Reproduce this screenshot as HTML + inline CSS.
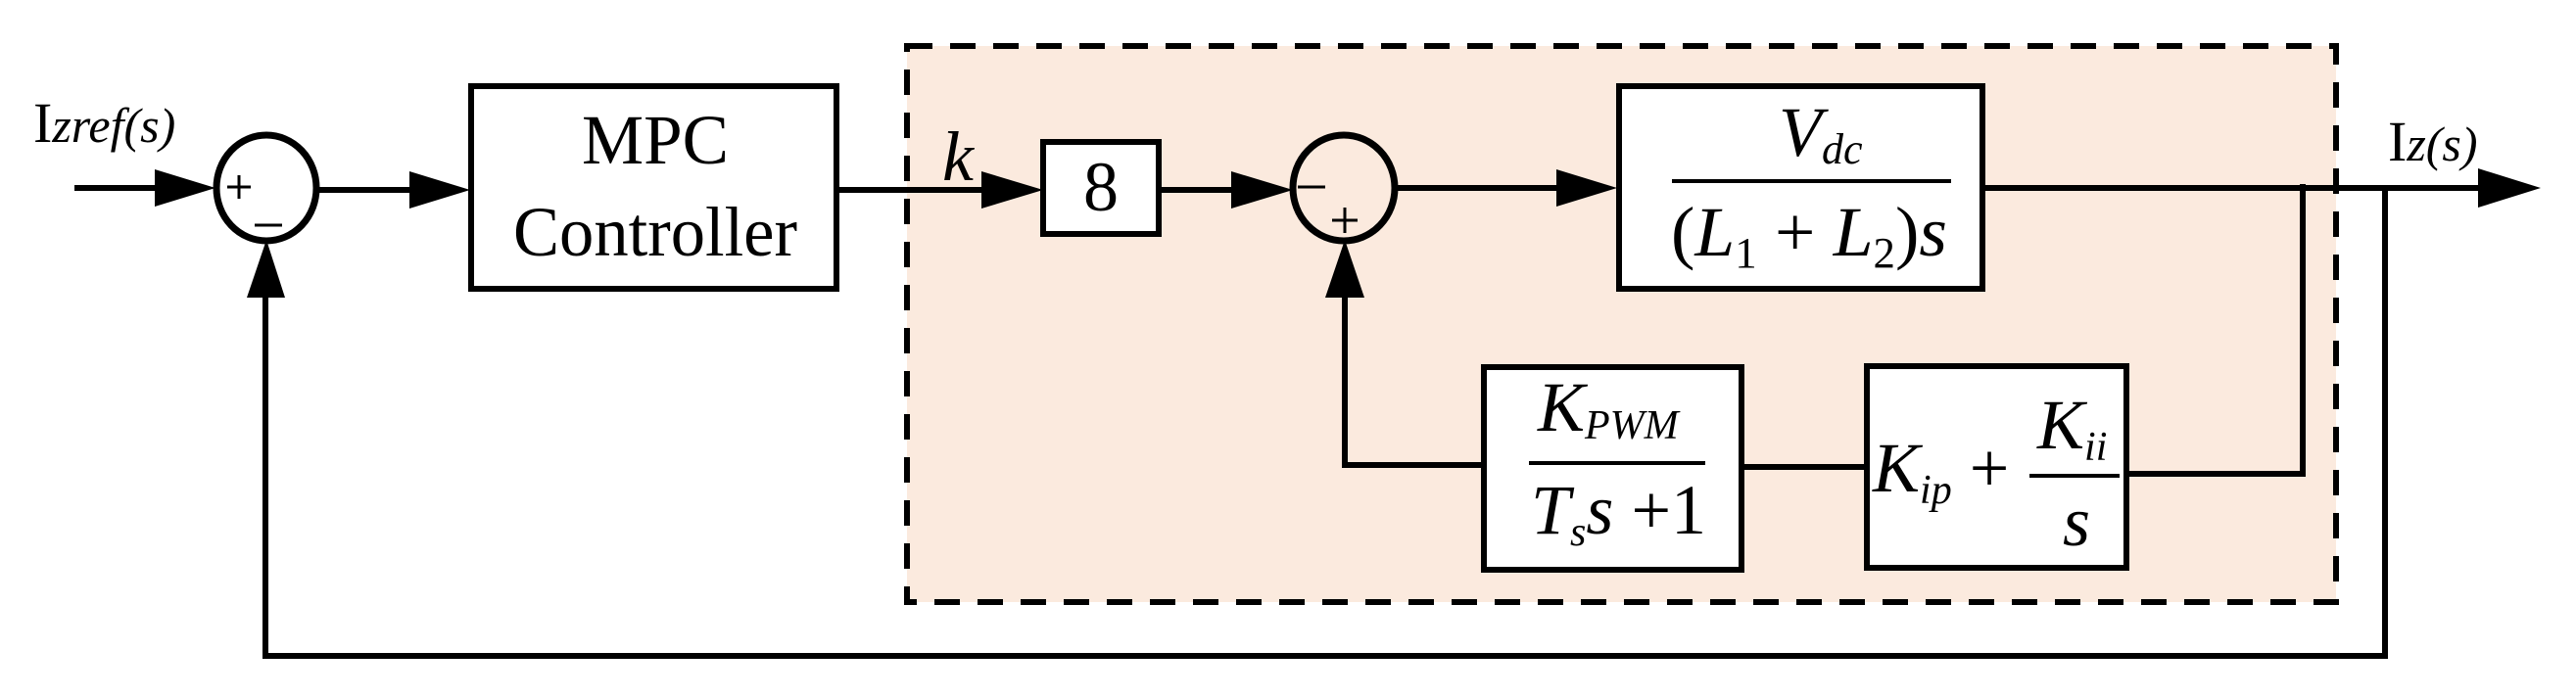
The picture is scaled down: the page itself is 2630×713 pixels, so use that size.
<!DOCTYPE html>
<html><head><meta charset="utf-8"><style>body{margin:0;background:#fff}svg{display:block}text{font-family:"Liberation Serif",serif}</style></head><body>
<svg width="2630" height="713" viewBox="0 0 2630 713" xmlns="http://www.w3.org/2000/svg">
<rect x="926" y="47" width="1459" height="568" fill="#fbeade"/>
<rect x="926" y="47" width="1459" height="568" fill="none" stroke="#000" stroke-width="6" stroke-dasharray="26,18"/>
<g stroke="#000" stroke-width="6" fill="none">
<line x1="76" y1="192" x2="170" y2="192"/>
<ellipse cx="272" cy="192" rx="51" ry="54" stroke-width="7"/>
<line x1="323" y1="194" x2="430" y2="194"/>
<rect x="481" y="88" width="373" height="207" fill="#fff"/>
<line x1="854" y1="194" x2="1010" y2="194"/>
<rect x="1065" y="145" width="118" height="94" fill="#fff"/>
<line x1="1183" y1="194" x2="1265" y2="194"/>
<ellipse cx="1372" cy="192" rx="52" ry="54" stroke-width="7"/>
<line x1="1424" y1="192" x2="1595" y2="192"/>
<rect x="1653" y="88" width="371" height="207" fill="#fff"/>
<line x1="2024" y1="192" x2="2540" y2="192"/>
<polyline points="2351,188 2351,484 2171,484"/>
<polyline points="2435,192 2435,670 271,670 271,300"/>
<rect x="1515" y="375" width="263" height="207" fill="#fff"/>
<rect x="1906" y="374" width="265" height="206" fill="#fff"/>
<line x1="1778" y1="477" x2="1906" y2="477"/>
<polyline points="1515,475 1373,475 1373,300"/>
<line x1="1707" y1="185" x2="1992" y2="185" stroke-width="4"/>
<line x1="1561" y1="473" x2="1741" y2="473" stroke-width="4"/>
<line x1="2072" y1="486" x2="2164" y2="486" stroke-width="4"/>
</g>
<g fill="#000">
<polygon points="158,173 220,192 158,211"/>
<polygon points="418,175 480,194 418,213"/>
<polygon points="1002,175 1065,194 1002,213"/>
<polygon points="1257,175 1320,194 1257,213"/>
<polygon points="1589,173 1651,192 1589,211"/>
<polygon points="2530,172 2594,192 2530,212"/>
<polygon points="252,304 272,245 291,304"/>
<polygon points="1353,304 1373,245 1393,304"/>
</g>
<g stroke="#000" stroke-width="3">
<line x1="232" y1="191" x2="256" y2="191"/><line x1="244" y1="179" x2="244" y2="203"/>
<line x1="260" y1="230" x2="288" y2="230"/>
<line x1="1325" y1="191" x2="1353" y2="191"/>
<line x1="1360" y1="225" x2="1386" y2="225"/><line x1="1373" y1="212" x2="1373" y2="238"/>
</g>
<text x="34" y="145" font-size="58">I<tspan font-style="italic" font-size="50">zref(s)</tspan></text>
<text x="2438" y="164" font-size="58">I<tspan font-style="italic" font-size="50">z(s)</tspan></text>
<text x="669" y="167" font-size="72" text-anchor="middle" textLength="150" lengthAdjust="spacingAndGlyphs">MPC</text>
<text x="669" y="261" font-size="72" text-anchor="middle" textLength="290" lengthAdjust="spacingAndGlyphs">Controller</text>
<text x="962" y="184" font-size="72" font-style="italic">k</text>
<text x="1124" y="215" font-size="72" text-anchor="middle">8</text>
<text x="1816" y="159" font-size="72" font-style="italic">V<tspan font-size="44" dy="8">dc</tspan></text>
<text x="1706" y="261" font-size="72" textLength="282" lengthAdjust="spacingAndGlyphs">(<tspan font-style="italic">L</tspan><tspan font-size="44" dy="12">1</tspan><tspan dy="-12"> + </tspan><tspan font-style="italic">L</tspan><tspan font-size="44" dy="12">2</tspan><tspan dy="-12">)</tspan><tspan font-style="italic">s</tspan></text>
<text x="1570" y="440" font-size="72" font-style="italic">K<tspan font-size="42" dy="8">PWM</tspan></text>
<text x="1563" y="545" font-size="72"><tspan font-style="italic">T</tspan><tspan font-size="42" font-style="italic" dy="12">s</tspan><tspan font-style="italic" dy="-12">s</tspan> +1</text>
<text x="1912" y="502" font-size="72"><tspan font-style="italic">K</tspan><tspan font-size="42" font-style="italic" dy="12">ip</tspan><tspan dy="-12"> +</tspan></text>
<text x="2080" y="458" font-size="72" font-style="italic">K<tspan font-size="42" dy="12">ii</tspan></text>
<text x="2106" y="557" font-size="72" font-style="italic">s</text>
</svg>
</body></html>
